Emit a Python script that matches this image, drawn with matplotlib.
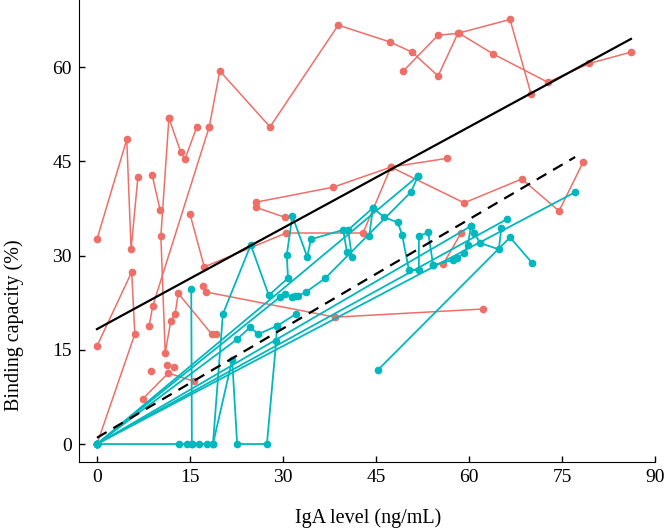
import numpy as np
import matplotlib
matplotlib.use("Agg")
import matplotlib.pyplot as plt

# trayectorias grupo rojo (IgA, capacidad)
rojo = [
    ([0.0, 4.8, 5.5, 6.6], [32.6, 48.5, 31.0, 42.5]),
    ([0.0, 5.6, 6.1, 0.0], [15.6, 27.4, 17.5, 0.0]),
    ([8.9, 10.2], [42.8, 37.2]),
    ([11.6, 10.3, 11.0, 11.9, 12.6, 13.1, 18.5, 19.2], [51.9, 33.1, 14.5, 19.6, 20.7, 24.0, 17.5, 17.5]),
    ([15.0, 17.3, 30.5, 42.9, 47.4, 59.2, 68.5, 74.5, 78.4], [36.6, 28.2, 33.6, 33.6, 44.1, 38.4, 42.2, 37.1, 44.9]),
    ([18.1, 9.0, 8.4], [50.5, 22.0, 18.8]),
    ([11.6, 13.5, 14.2, 16.1], [51.9, 46.5, 45.4, 50.5]),
    ([18.1, 19.8, 27.9, 38.9, 47.3, 50.8, 55.0, 58.2, 66.6, 70.0], [50.5, 59.4, 50.5, 66.7, 64.0, 62.4, 58.6, 65.4, 67.6, 55.7]),
    ([49.4, 55.0, 58.4, 63.9, 72.7, 79.4, 86.1], [59.4, 65.1, 65.4, 62.1, 57.6, 60.6, 62.4]),
    ([25.6, 30.3], [37.7, 36.1]),
    ([25.6, 38.1, 47.4, 56.5], [38.5, 40.9, 44.1, 45.5]),
    ([17.1, 17.6, 38.4, 62.3], [25.1, 24.2, 20.2, 21.5]),
    ([7.4, 11.5, 15.6], [7.2, 11.3, 10.0]),
    ([11.3, 12.4], [12.6, 12.3]),
    ([8.7], [11.6]),
    ([55.8, 58.7], [28.6, 33.6]),
]

# trayectorias grupo turquesa
turquesa = [
    ([0.0, 13.2, 14.5, 15.3, 15.2], [0.0, 0.0, 0.0, 0.0, 24.7]),
    ([15.3, 16.5, 17.7, 18.7, 20.3, 24.8, 27.7, 30.8, 30.6, 31.5, 33.9, 34.5, 39.7, 40.3, 41.1, 40.5,
      44.5, 46.3, 48.5, 49.2, 50.3, 51.9, 51.9, 53.4, 54.2],
     [0.0, 0.0, 0.0, 0.0, 20.7, 31.7, 23.7, 26.4, 30.1, 36.3, 29.8, 32.6, 34.1, 30.6, 29.8, 34.1,
      37.6, 36.1, 35.3, 33.3, 27.7, 27.7, 33.1, 33.7, 28.5]),
    ([18.7, 21.8, 22.6, 27.4, 28.9, 29.0, 32.1], [0.0, 13.4, 0.0, 0.0, 16.4, 18.8, 20.7]),
    ([0.0, 22.6, 24.7, 26.0, 29.0], [0.0, 16.7, 18.6, 17.5, 18.8]),
    ([0.0, 29.5, 30.3, 31.5, 31.9, 32.4, 33.7, 36.8, 50.6, 51.8],
     [0.0, 23.4, 23.9, 23.4, 23.6, 23.6, 24.2, 26.4, 40.1, 42.7]),
    ([0.0, 51.8], [0.0, 42.7]),
    ([0.0, 66.1], [0.0, 35.8]),
    ([0.0, 77.1], [0.0, 40.1]),
    ([0.0, 60.3], [0.0, 34.7]),
    ([45.3, 66.6, 70.2], [11.8, 32.9, 28.8]),
    ([54.2, 57.4, 58.1, 59.2, 59.8, 60.3, 60.8, 61.8, 64.8, 65.2],
     [28.5, 29.3, 29.6, 30.4, 31.7, 34.7, 33.6, 32.0, 31.0, 34.4]),
    ([43.9, 44.5], [33.1, 37.6]),
]

# rectas de ajuste (extremos)
ajuste_x = [0.0, 86.1]
ajuste_y = [18.3, 64.5]
ajuste2_x = [0.0, 77.1]
ajuste2_y = [1.0, 45.7]

plt.rcParams['font.family'] = ['Liberation Serif', 'DejaVu Serif']
fig = plt.figure(figsize=(6.65, 5.31), dpi=100)
ax = fig.add_axes([79 / 665, 69 / 531, 578 / 665, 462 / 531])

col_r = '#EE6F68'
col_t = '#00B8BE'
for xs, ys in rojo:
    ax.plot(xs, ys, color=col_r, lw=1.1, marker='o', ms=4.5, zorder=2)
for xs, ys in turquesa:
    ax.plot(xs, ys, color=col_t, lw=1.3, marker='o', ms=4.5, zorder=3)

ax.plot(ajuste_x, ajuste_y, color='black', lw=1.6, zorder=4)
ax.plot(ajuste2_x, ajuste2_y, color='black', lw=1.6, ls=(0, (5, 3.5)), zorder=4)

ax.set_xlim(-2.9, 90.3)
ax.set_ylim(-2.86, 70.7)
ax.set_xticks([0, 15, 30, 45, 60, 75, 90])
ax.set_yticks([0, 15, 30, 45, 60])
for s in ['top', 'right']:
    ax.spines[s].set_visible(False)
ax.spines['bottom'].set_bounds(-2.9, 90)
ax.tick_params(direction='in', length=4, width=1, labelsize=14, pad=5)
ax.set_xlabel('IgA level (ng/mL)', fontsize=14.5, labelpad=16)
ax.set_ylabel('Binding capacity (%)', fontsize=14.5)
# la figura original esta recortada arriba: la etiqueta queda mas abajo
ax.yaxis.set_label_coords(-0.095, 0.297)

plt.savefig('out.png', dpi=100)
